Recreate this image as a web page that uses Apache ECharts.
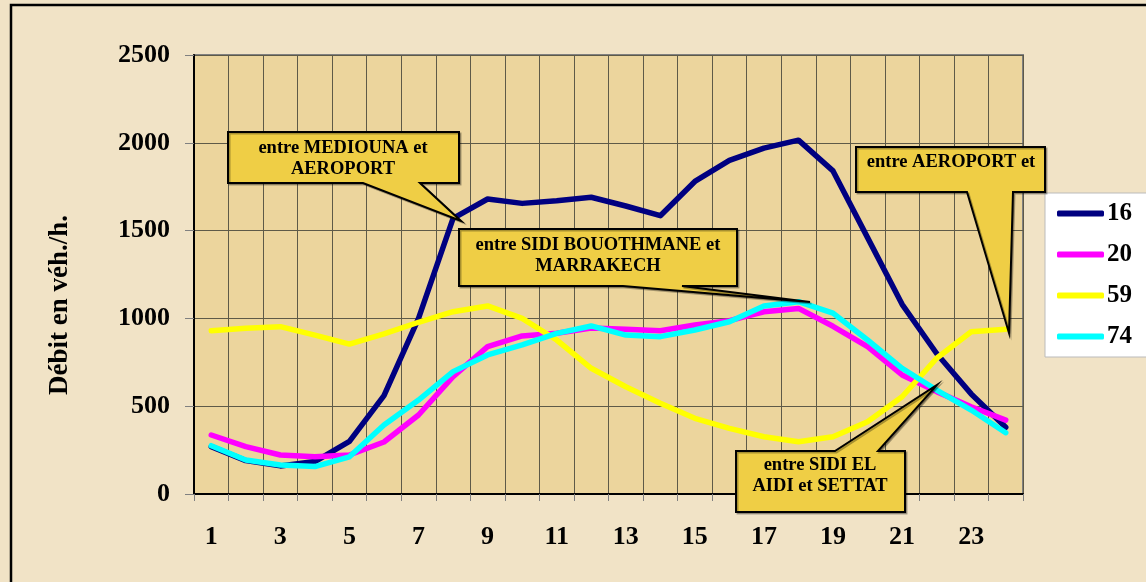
<!DOCTYPE html>
<html>
<head>
<meta charset="utf-8">
<script src="https://cdn.jsdelivr.net/npm/echarts@6/dist/echarts.min.js"></script>
<style>
  html, body { margin: 0; padding: 0; background: #f1e3c6; }
  #chart { width: 1146px; height: 582px; }
</style>
</head>
<body>
<div id="chart"></div>
<script>
// heures 1..24
const hours = ['1', '2', '3', '4', '5', '6', '7', '8', '9', '10', '11', '12',
  '13', '14', '15', '16', '17', '18', '19', '20', '21', '22', '23', '24'];
const route16 = [270, 190, 160, 185, 300, 560, 1000, 1570, 1680, 1655, 1670, 1690,
  1640, 1585, 1780, 1900, 1970, 2015, 1840, 1460, 1080, 800, 570, 380];
const route20 = [336, 270, 222, 212, 222, 296, 450, 668, 839, 900, 915, 945,
  938, 930, 962, 987, 1038, 1057, 955, 839, 678, 583, 497, 421];
const route59 = [930, 944, 953, 905, 854, 912, 978, 1038, 1071, 1000, 877, 716,
  611, 517, 431, 374, 326, 298, 326, 412, 554, 773, 924, 938];
const route74 = [275, 194, 165, 156, 212, 393, 535, 697, 792, 849, 915, 957,
  905, 896, 934, 981, 1071, 1095, 1030, 877, 716, 592, 478, 349];
const seriesNames = ['16', '20', '59', '74'];
const seriesColors = ['#000080', '#ff00ff', '#ffff00', '#00ffff'];

const FONT = "'Liberation Serif', 'Times New Roman', serif";

// bulles de texte (boite + pointe)
function callout(points, lines, tx, ty) {
  return [{
    type: 'polygon',
    shape: { points: points },
    style: {
      fill: '#efce45', stroke: '#000', lineWidth: 2,
      shadowColor: 'rgba(0,0,0,0.3)', shadowOffsetX: 1.5, shadowOffsetY: 1.5
    },
    z: 100
  }, {
    type: 'text',
    x: tx, y: ty,
    style: {
      text: lines, fill: '#000', font: 'bold 18.5px ' + FONT,
      align: 'center', verticalAlign: 'top', lineHeight: 21
    },
    z: 101
  }];
}

const chart = echarts.init(document.getElementById('chart'));

const option = {
  backgroundColor: '#f1e3c6',
  animation: false,
  grid: {
    left: 194, top: 55, right: 123, bottom: 88,
    show: true,
    backgroundColor: '#ecd59d',
    borderColor: '#808080',
    borderWidth: 2
  },
  legend: {
    orient: 'vertical',
    left: 1045, top: 193,
    data: seriesNames,
    icon: 'roundRect',
    backgroundColor: '#ffffff',
    borderColor: '#bbbbbb',
    borderWidth: 1,
    padding: [8, 40, 8, 12],
    itemWidth: 47,
    itemHeight: 6,
    itemGap: 16,
    textStyle: { fontFamily: FONT, fontWeight: 'bold', fontSize: 25, color: '#000', padding: [0, 0, 0, -2] }
  },
  xAxis: {
    type: 'category',
    data: hours,
    boundaryGap: true,
    axisLine: { lineStyle: { color: '#000', width: 2 } },
    axisTick: { show: true, interval: 0, length: 7, lineStyle: { color: '#808080', width: 1 } },
    axisLabel: {
      interval: 1, margin: 30, color: '#000',
      fontFamily: FONT, fontWeight: 'bold', fontSize: 26
    },
    splitLine: { show: true, interval: 0, lineStyle: { color: '#5e5a48', width: 1 } }
  },
  yAxis: {
    type: 'value',
    min: 0, max: 2500, interval: 500,
    axisLine: { show: true, lineStyle: { color: '#000', width: 2 } },
    axisTick: { show: true, length: 9, lineStyle: { color: '#808080', width: 1 } },
    axisLabel: {
      margin: 24, color: '#000',
      fontFamily: FONT, fontWeight: 'bold', fontSize: 26,
      formatter: function (v) { return String(v); }
    },
    splitLine: { show: true, lineStyle: { color: '#5e5a48', width: 1 } }
  },
  series: [route16, route20, route59, route74].map(function (d, i) {
    return {
      name: seriesNames[i],
      type: 'line',
      data: d,
      symbol: 'none',
      color: seriesColors[i],
      lineStyle: { color: seriesColors[i], width: 5.5, cap: 'round', join: 'round' }
    };
  }),
  graphic: [
    {
      type: 'rect',
      shape: { x: 11, y: 5, width: 1160, height: 600 },
      style: { fill: 'none', stroke: '#000', lineWidth: 2.5 },
      z: 120
    },
    {
      type: 'text',
      x: 60, y: 305,
      rotation: Math.PI / 2,
      style: {
        text: 'Débit en véh./h.', fill: '#000', font: 'bold 27px ' + FONT,
        align: 'center', verticalAlign: 'middle'
      }
    }
  ].concat(
    callout([[228, 132], [459, 132], [459, 183], [420, 183], [461, 221], [363, 183], [228, 183]],
      'entre MEDIOUNA et\nAEROPORT', 343, 138),
    callout([[459, 229], [737, 229], [737, 286], [682, 286], [810, 302], [623, 286], [459, 286]],
      'entre SIDI BOUOTHMANE et\nMARRAKECH', 598, 235),
    callout([[856, 147], [1045, 147], [1045, 192], [1013, 192], [1009, 333], [967, 192], [856, 192]],
      'entre AEROPORT et', 951, 152),
    callout([[736, 451], [835, 451], [937, 385], [878, 451], [905, 451], [905, 512], [736, 512]],
      'entre SIDI EL\nAIDI et SETTAT', 820, 455)
  )
};

chart.setOption(option);
</script>
</body>
</html>
